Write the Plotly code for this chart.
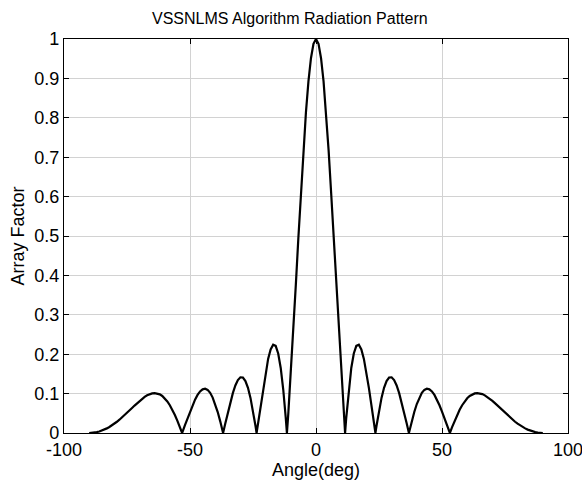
import plotly.graph_objects as go

# Angle samples (deg), including null positions
angle_deg = [
    -90, -89, -88, -87, -86, -85, -84, -83, -82, -81, -80, -79, -78, -77, -76, -75, -74, -73, -72, -71,
    -70, -69, -68, -67, -66, -65, -64, -63, -62, -61, -60, -59, -58, -57, -56, -55, -54, -53.13, -53, -52,
    -51, -50, -49, -48, -47, -46, -45, -44, -43, -42, -41, -40, -39, -38, -37, -36.87, -36, -35, -34, -33,
    -32, -31, -30, -29, -28, -27, -26, -25, -24, -23.58, -23, -22, -21, -20, -19, -18, -17, -16, -15, -14,
    -13, -12, -11.54, -11, -10, -9, -8, -7, -6, -5, -4, -3, -2, -1, 0,
    1, 2, 3, 4, 5, 6, 7, 8, 9, 10, 11, 11.54, 12, 13, 14, 15, 16, 17, 18, 19,
    20, 21, 22, 23, 23.58, 24, 25, 26, 27, 28, 29, 30, 31, 32, 33, 34, 35, 36, 36.87, 37,
    38, 39, 40, 41, 42, 43, 44, 45, 46, 47, 48, 49, 50, 51, 52, 53, 53.13, 54, 55, 56,
    57, 58, 59, 60, 61, 62, 63, 64, 65, 66, 67, 68, 69, 70, 71, 72, 73, 74, 75, 76,
    77, 78, 79, 80, 81, 82, 83, 84, 85, 86, 87, 88, 89, 90,
]

array_factor = [
    0.0, 0.0002, 0.0010, 0.0022, 0.0038, 0.0060, 0.0086, 0.0117, 0.0152, 0.0192, 0.0236, 0.0285, 0.0337, 0.0392, 0.0450, 0.0511, 0.0573, 0.0635, 0.0697, 0.0758,
    0.0816, 0.0869, 0.0916, 0.0956, 0.0987, 0.1006, 0.1013, 0.1005, 0.0981, 0.0940, 0.0881, 0.0802, 0.0705, 0.0590, 0.0457, 0.0309, 0.0148, 0.0, 0.0023, 0.0198,
    0.0374, 0.0545, 0.0705, 0.0847, 0.0966, 0.1055, 0.1109, 0.1123, 0.1094, 0.1019, 0.0899, 0.0735, 0.0532, 0.0296, 0.0035, 0.0, 0.0239, 0.0514, 0.0777, 0.1012,
    0.1205, 0.1343, 0.1414, 0.1408, 0.1319, 0.1147, 0.0892, 0.0565, 0.0177, 0.0, 0.0252, 0.0700, 0.1140, 0.1544, 0.1881, 0.2122, 0.2240, 0.2211, 0.2018, 0.1650,
    0.1104, 0.0386, 0.0, 0.0487, 0.1493, 0.2599, 0.3766, 0.4949, 0.6103, 0.7179, 0.8131, 0.8923, 0.9512, 0.9877, 1.0,
    0.9877, 0.9512, 0.8923, 0.8131, 0.7179, 0.6103, 0.4949, 0.3766, 0.2599, 0.1493, 0.0487, 0.0, 0.0386, 0.1104, 0.1650, 0.2018, 0.2211, 0.2240, 0.2122, 0.1881,
    0.1544, 0.1140, 0.0700, 0.0252, 0.0, 0.0177, 0.0565, 0.0892, 0.1147, 0.1319, 0.1408, 0.1414, 0.1343, 0.1205, 0.1012, 0.0777, 0.0514, 0.0239, 0.0, 0.0035,
    0.0296, 0.0532, 0.0735, 0.0899, 0.1019, 0.1094, 0.1123, 0.1109, 0.1055, 0.0966, 0.0847, 0.0705, 0.0545, 0.0374, 0.0198, 0.0023, 0.0, 0.0148, 0.0309, 0.0457,
    0.0590, 0.0705, 0.0802, 0.0881, 0.0940, 0.0981, 0.1005, 0.1013, 0.1006, 0.0987, 0.0956, 0.0916, 0.0869, 0.0816, 0.0758, 0.0697, 0.0635, 0.0573, 0.0511, 0.0450,
    0.0392, 0.0337, 0.0285, 0.0236, 0.0192, 0.0152, 0.0117, 0.0086, 0.0060, 0.0038, 0.0022, 0.0010, 0.0002, 0.0,
]

x_tick_vals = [-100, -50, 0, 50, 100]
x_tick_text = ["-100", "-50", "0", "50", "100"]
y_tick_vals = [0, 0.1, 0.2, 0.3, 0.4, 0.5, 0.6, 0.7, 0.8, 0.9, 1]
y_tick_text = ["0", "0.1", "0.2", "0.3", "0.4", "0.5", "0.6", "0.7", "0.8", "0.9", "1"]

FONT = "Liberation Sans, Arial, Helvetica, sans-serif"

fig = go.Figure()
fig.add_trace(go.Scatter(
    x=angle_deg, y=array_factor, mode="lines",
    line=dict(color="black", width=2.2), showlegend=False, hoverinfo="x+y",
))

axis_common = dict(
    showline=True, linecolor="black", linewidth=1.3, mirror="ticks",
    ticks="inside", ticklen=5, tickwidth=1.3, tickcolor="black",
    showgrid=True, gridcolor="#d2d2d2", gridwidth=1,
    zeroline=False, automargin=False, ticklabeloverflow="allow",
    tickfont=dict(family=FONT, size=18, color="black"),
)

fig.update_layout(
    width=582, height=480,
    margin=dict(l=64, r=14, t=39, b=47),
    paper_bgcolor="white", plot_bgcolor="white",
    font=dict(family=FONT, color="black"),
    title=dict(text="VSSNLMS Algorithm Radiation Pattern", x=0.498, xanchor="center",
               y=0.9625, yanchor="middle", font=dict(family=FONT, size=16, color="black")),
    xaxis=dict(range=[-100, 100], tickvals=x_tick_vals, ticktext=x_tick_text,
               title=dict(text="Angle(deg)", standoff=5, font=dict(family=FONT, size=18)),
               **axis_common),
    yaxis=dict(range=[0, 1], tickvals=y_tick_vals, ticktext=y_tick_text,
               title=dict(text="Array Factor", standoff=4, font=dict(family=FONT, size=18)),
               **axis_common),
)

# remove the default page margin so the 582x480 figure fills the window exactly
fig.write_html("out.html",
               config={"displayModeBar": False},
               post_script="document.body.style.margin='0';document.body.style.overflow='hidden';")
